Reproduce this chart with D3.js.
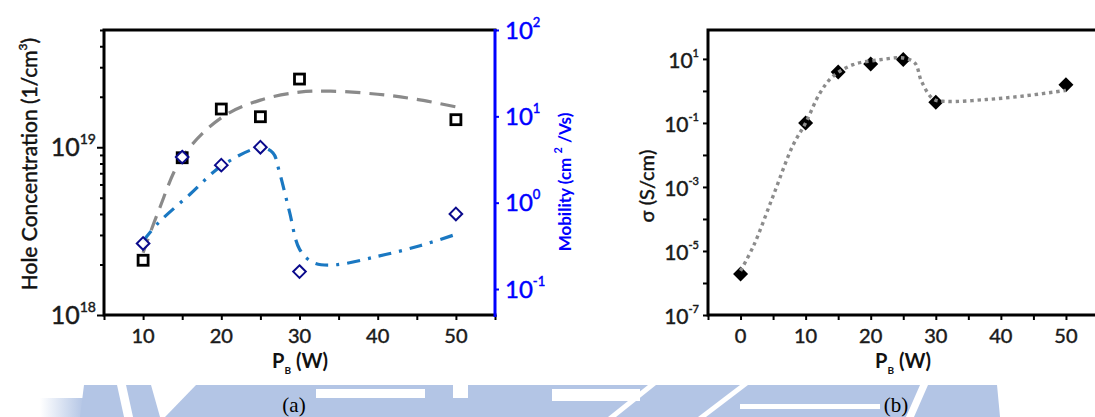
<!DOCTYPE html>
<html><head><meta charset="utf-8">
<script src="https://cdn.jsdelivr.net/npm/d3@7"></script>
<style>
html,body{margin:0;padding:0;background:#fff;}
svg{display:block;}
text{font-family:Lato,"Open Sans",sans-serif;}
text.heavy{stroke-width:0.45px;paint-order:stroke;}
text.caption{font-family:"Liberation Serif","Times New Roman",serif;}
</style></head><body>
<svg id="chart" width="1095" height="417"></svg>
<script>
// ---- panel (a): hole concentration and mobility vs. boron target power ----
const powerA = [10, 15, 20, 25, 30, 50];
const holeConc = [2.12e18, 8.66e18, 1.69e19, 1.52e19, 2.55e19, 1.46e19];
const mobility = [0.337, 3.37, 2.72, 4.39, 0.159, 0.74];

// guide-to-the-eye curves
const holeFitX = [10, 12, 15, 20, 25, 30, 34, 40, 45, 50];
const holeFitY = [2.35e18, 4.2e18, 8.7e18, 1.5e19, 1.91e19, 2.13e19, 2.16e19, 2.07e19, 1.93e19, 1.74e19];
const mobFitX = [10, 12, 16, 20, 25, 26.6, 27.4, 28.7, 30, 31.7, 34.3, 40, 45.4, 50];
const mobFitY = [0.36, 0.59, 1.25, 2.65, 4.33, 3.78, 2.32, 0.80, 0.29, 0.204, 0.19, 0.239, 0.317, 0.43];

// ---- panel (b): conductivity ----
const powerB = [0, 10, 15, 20, 25, 30, 50];
const sigma = [1.9e-6, 0.1, 3.9, 6.9, 9.5, 0.44, 1.57];
const sigmaFitX = [0, 2, 5, 8, 10, 12.2, 14.2, 17.3, 21.4, 25, 26.8, 27.8, 29.6, 31.6, 37.8, 43.9, 50];
const sigmaFitY = [2.4e-6, 1.45e-5, 5.2e-4, 1.9e-2, 0.1, 0.86, 2.85, 6.6, 9.4, 10.7, 7.4, 2.0, 0.56, 0.47, 0.54, 0.71, 1.04];

// ---- ticks ----
const xTicksA = [10, 20, 30, 40, 50];
const xTicksB = [0, 10, 20, 30, 40, 50];
const holeTicks = [1e18, 1e19];
const holeExp = ["18", "19"];
const mobTicks = [0.1, 1, 10, 100];
const mobExp = ["-1", "0", "1", "2"];
const sigmaTicks = [1e-7, 1e-5, 1e-3, 1e-1, 1e1];
const sigmaExp = ["-7", "-5", "-3", "-1", "1"];

const svg = d3.select("#chart");
svg.append("rect").attr("width", 1095).attr("height", 417).attr("fill", "#fff");

// ---- faint institutional banner along the bottom ----
const band = svg.append("g").attr("class", "banner");
const defs = svg.append("defs");
const fade = defs.append("linearGradient").attr("id", "fadeL");
fade.append("stop").attr("offset", "0").attr("stop-color", "#b3c5e5").attr("stop-opacity", 0);
fade.append("stop").attr("offset", "1").attr("stop-color", "#b3c5e5").attr("stop-opacity", 1);
const bandBlue = "#b3c5e5";
band.append("rect").attr("x", 40).attr("y", 398).attr("width", 44).attr("height", 19).attr("fill", "url(#fadeL)");
[
  "M84,385 L117,385 L124,417 L80,417 Z",
  "M126,385 L151,385 L160,417 L133,417 Z",
  "M196,385 L997,385 L1000,417 L165,417 Z"
].forEach(d => band.append("path").attr("d", d).attr("fill", bandBlue));
[
  "M316,389 L425,389 L425,398 L316,398 Z",
  "M453,385 L468,385 L468,398 L453,398 Z",
  "M552,389 L640,389 L640,401 L552,401 Z",
  "M648,385 L656,385 L616,417 L608,417 Z",
  "M740,385 L748,385 L706,417 L698,417 Z",
  "M740,404 L880,404 L880,409 L740,409 Z",
  "M920,385 L928,385 L914,417 L906,417 Z"
].forEach(d => band.append("path").attr("d", d).attr("fill", "#fff"));

// ================= panel (a) =================
const ga = svg.append("g");
const xA = d3.scaleLinear([5, 55], [104, 495]);
const yHole = d3.scaleLog([1e18, 5e19], [315, 30]);
const yMob = d3.scaleLog([0.05, 100], [315, 30]);

function styleAxis(sel, color) {
  sel.select(".domain").remove();
  sel.selectAll(".tick line").attr("stroke", color).attr("stroke-width", 2);
  sel.selectAll(".tick text").remove();
}

// x ticks every 5
ga.append("g").attr("transform", "translate(0,315)")
  .call(d3.axisBottom(xA).tickValues(d3.range(5, 56, 5)).tickSize(5).tickFormat(""))
  .call(s => styleAxis(s, "#000"));

// left log axis: majors longer than minors
const holeMinor = [];
for (let e = 18; e <= 19; e++) for (let m = 2; m <= 9; m++) { const v = m * Math.pow(10, e); if (v <= 5e19) holeMinor.push(v); }
ga.append("g").attr("transform", "translate(104,0)")
  .call(d3.axisLeft(yHole).tickValues(holeMinor).tickSize(4).tickFormat(""))
  .call(s => styleAxis(s, "#000"));
ga.append("g").attr("transform", "translate(104,0)")
  .call(d3.axisLeft(yHole).tickValues(holeTicks).tickSize(7).tickFormat(""))
  .call(s => styleAxis(s, "#000"));

// right (mobility) axis
ga.append("g").attr("transform", "translate(495,0)")
  .call(d3.axisRight(yMob).tickValues(mobTicks).tickSize(4).tickFormat(""))
  .call(s => styleAxis(s, "#0000ff"));

// frame
ga.append("path").attr("d", `M${xA(55)},${yHole(5e19)} H${xA(5)} V${yHole(1e18)} H${xA(55)}`)
  .attr("fill", "none").attr("stroke", "#000").attr("stroke-width", 3).attr("stroke-linecap", "square");
ga.append("line").attr("x1", xA(55)).attr("x2", xA(55)).attr("y1", 29).attr("y2", 317)
  .attr("stroke", "#0000ff").attr("stroke-width", 3);

function supLabel(g, x, y, anchor, base, exp, fsBase, fsExp, dyExp, fill) {
  const t = g.append("text").attr("class", "heavy").attr("x", x).attr("y", y)
    .attr("text-anchor", anchor).attr("fill", fill).attr("stroke", fill);
  t.append("tspan").attr("font-size", fsBase).text(base);
  t.append("tspan").attr("font-size", fsExp).attr("dy", dyExp).text(exp);
  return t;
}

holeTicks.forEach((v, i) => supLabel(ga, 96, yHole(v) + 9, "end", "10", holeExp[i], 25, 14, -12, "#1a1a1a"));
mobTicks.forEach((v, i) => supLabel(ga, 505, yMob(v) + 8.5, "start", "10", mobExp[i], 24, 13, -12, "#0000ff"));
xTicksA.forEach(v => ga.append("text").attr("class", "heavy").attr("x", xA(v)).attr("y", 343).attr("text-anchor", "middle")
  .attr("font-size", 20).attr("fill", "#1a1a1a").attr("stroke", "#1a1a1a").text(v));

// axis titles
const tA = ga.append("text").attr("class", "heavy").attr("transform", "translate(37,164) rotate(-90)").attr("text-anchor", "middle")
  .attr("font-size", 21).attr("fill", "#111").attr("stroke", "#111");
tA.append("tspan").text("Hole Concentration (1/cm");
tA.append("tspan").attr("font-size", 12).attr("dy", -10).text("3");
tA.append("tspan").attr("dy", 10).text(")");

const tM = ga.append("text").attr("transform", "translate(571,182) rotate(-90)").attr("text-anchor", "middle")
  .attr("font-size", 17).attr("font-weight", "bold").attr("fill", "#0000ff");
tM.append("tspan").text("Mobility (cm ");
tM.append("tspan").attr("font-size", 11).attr("dy", -9).text("2");
tM.append("tspan").attr("dy", 9).text(" /Vs)");

function pbTitle(g, cx) {
  const t = g.append("text").attr("x", cx).attr("y", 368).attr("text-anchor", "middle")
    .attr("font-size", 20).attr("font-weight", "bold").attr("fill", "#111");
  t.append("tspan").text("P");
  t.append("tspan").attr("font-size", 10).attr("dy", 6).text("B");
  t.append("tspan").attr("dy", -6).text(" (W)");
}
pbTitle(ga, 300);

// curves
const holeLine = d3.line().curve(d3.curveCatmullRom.alpha(0.5))
  .x(d => xA(d[0])).y(d => yHole(d[1]));
const mobLine = d3.line().curve(d3.curveCatmullRom.alpha(0.5))
  .x(d => xA(d[0])).y(d => yMob(d[1]));
ga.append("path").datum(d3.zip(holeFitX, holeFitY)).attr("d", holeLine)
  .attr("fill", "none").attr("stroke", "#8a8a8a").attr("stroke-width", 3.2).attr("stroke-dasharray", "15,9");
ga.append("path").datum(d3.zip(mobFitX, mobFitY)).attr("d", mobLine)
  .attr("fill", "none").attr("stroke", "#1a78c2").attr("stroke-width", 3.2).attr("stroke-dasharray", "13,8,3,8");

// markers
const sq = 10;
ga.selectAll("rect.hole").data(d3.zip(powerA, holeConc)).join("rect").attr("class", "hole")
  .attr("x", d => xA(d[0]) - sq / 2).attr("y", d => yHole(d[1]) - sq / 2)
  .attr("width", sq).attr("height", sq).attr("fill", "#fff").attr("stroke", "#000").attr("stroke-width", 2.8);
const dm = 6.3;
ga.selectAll("path.mob").data(d3.zip(powerA, mobility)).join("path").attr("class", "mob")
  .attr("d", d => { const x = xA(d[0]), y = yMob(d[1]); return `M${x},${y - dm} L${x + dm},${y} L${x},${y + dm} L${x - dm},${y} Z`; })
  .attr("fill", "#fff").attr("fill-opacity", 0.9).attr("stroke", "#0a0a8c").attr("stroke-width", 2);

// ================= panel (b) =================
const gb = svg.append("g");
const xB = d3.scaleLinear([-5, 55], [708, 1098.5]);
const yS = d3.scaleLog([1e-7, 80], [315, 30]);

gb.append("g").attr("transform", "translate(0,315)")
  .call(d3.axisBottom(xB).tickValues(d3.range(-5, 56, 5)).tickSize(5).tickFormat(""))
  .call(s => styleAxis(s, "#000"));
const decades = d3.range(-7, 2).map(e => Math.pow(10, e));
gb.append("g").attr("transform", "translate(708,0)")
  .call(d3.axisLeft(yS).tickValues(decades).tickSize(5).tickFormat(""))
  .call(s => styleAxis(s, "#000"));

gb.append("path").attr("d", `M1100,${yS(80)} H${xB(-5)} V${yS(1e-7)} H1100`)
  .attr("fill", "none").attr("stroke", "#000").attr("stroke-width", 3).attr("stroke-linecap", "square");

sigmaTicks.forEach((v, i) => supLabel(gb, 699, yS(v) + 9, "end", "10", sigmaExp[i], 21, 11, -11, "#1a1a1a"));
xTicksB.forEach(v => gb.append("text").attr("class", "heavy").attr("x", xB(v)).attr("y", 343).attr("text-anchor", "middle")
  .attr("font-size", 20).attr("fill", "#1a1a1a").attr("stroke", "#1a1a1a").text(v));

gb.append("text").attr("class", "heavy").attr("transform", "translate(654,186) rotate(-90)").attr("text-anchor", "middle")
  .attr("font-size", 20).attr("fill", "#111").attr("stroke", "#111").text("σ (S/cm)");
pbTitle(gb, 903);

const dmb = 7.5;
gb.selectAll("path.sig").data(d3.zip(powerB, sigma)).join("path").attr("class", "sig")
  .attr("d", d => { const x = xB(d[0]), y = yS(d[1]); return `M${x},${y - dmb} L${x + dmb},${y} L${x},${y + dmb} L${x - dmb},${y} Z`; })
  .attr("fill", "#000");
const sigLine = d3.line().curve(d3.curveCatmullRom.alpha(0.5))
  .x(d => xB(d[0])).y(d => yS(d[1]));
gb.append("path").datum(d3.zip(sigmaFitX, sigmaFitY)).attr("d", sigLine)
  .attr("fill", "none").attr("stroke", "#8c8c8c").attr("stroke-width", 3.4).attr("stroke-dasharray", "3.4,3.8");

// ---- panel captions ----
svg.append("text").attr("class", "caption").attr("x", 294).attr("y", 412).attr("text-anchor", "middle")
  .attr("font-size", 21).attr("fill", "#000").text("(a)");
svg.append("text").attr("class", "caption").attr("x", 896).attr("y", 412).attr("text-anchor", "middle")
  .attr("font-size", 21).attr("fill", "#000").text("(b)");
</script></body></html>
